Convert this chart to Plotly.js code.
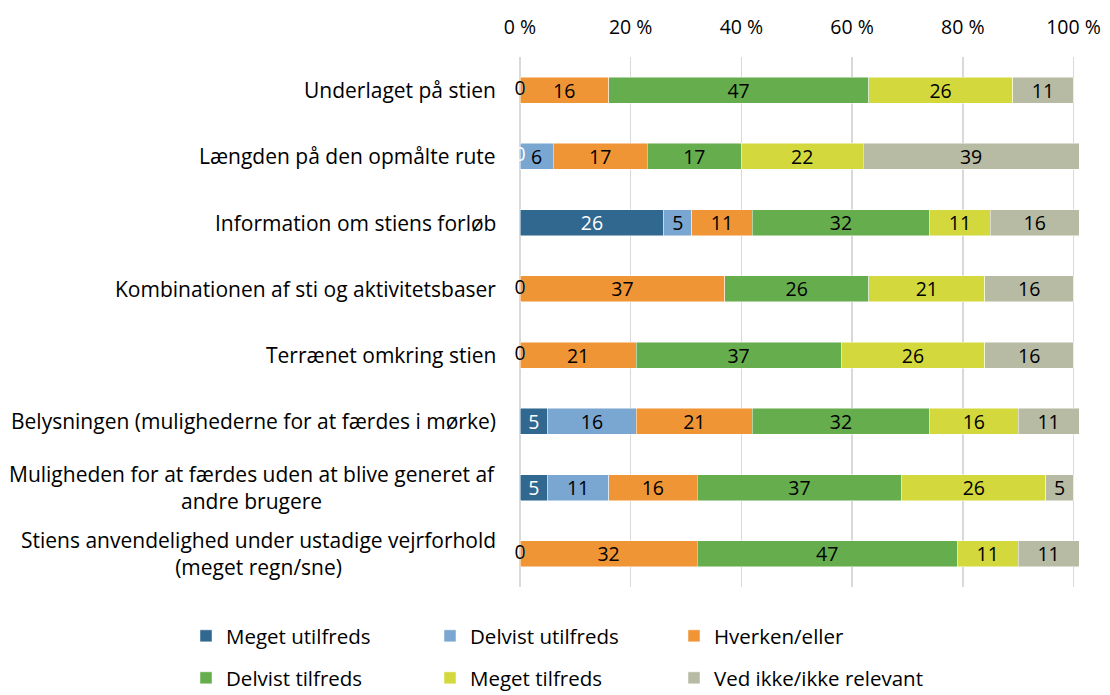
<!DOCTYPE html>
<html>
<head>
<meta charset="utf-8">
<script src="https://cdn.plot.ly/plotly-3.0.1.min.js"></script>
<style>html,body{margin:0;padding:0;background:#fff;}#chart{width:1110px;height:695px;}</style>
</head>
<body>
<div id="chart"></div>
<script>
// Categories (top to bottom)
var categories = [
  "Underlaget på stien",
  "Længden på den opmålte rute",
  "Information om stiens forløb",
  "Kombinationen af sti og aktivitetsbaser",
  "Terrænet omkring stien",
  "Belysningen (mulighederne for at færdes i mørke)",
  "Muligheden for at færdes uden at blive generet af andre brugere",
  "Stiens anvendelighed under ustadige vejrforhold (meget regn/sne)"
];
var categoryLabels = [
  "Underlaget på stien",
  "Længden på den opmålte rute",
  "Information om stiens forløb",
  "Kombinationen af sti og aktivitetsbaser",
  "Terrænet omkring stien",
  "Belysningen (mulighederne for at færdes i mørke)",
  "Muligheden for at færdes uden at blive generet af<br>andre brugere",
  "Stiens anvendelighed under ustadige vejrforhold<br>(meget regn/sne)"
];
var seriesNames = ["Meget utilfreds", "Delvist utilfreds", "Hverken/eller",
                   "Delvist tilfreds", "Meget tilfreds", "Ved ikke/ikke relevant"];
var megetUtilfreds   = [0, 0, 26, 0, 0, 5, 5, 0];
var delvistUtilfreds = [0, 6, 5, 0, 0, 16, 11, 0];
var hverkenEller     = [16, 17, 11, 37, 21, 21, 16, 32];
var delvistTilfreds  = [47, 17, 32, 26, 37, 32, 37, 47];
var megetTilfreds    = [26, 22, 11, 21, 26, 16, 26, 11];
var vedIkke          = [11, 39, 16, 16, 16, 11, 5, 11];
var tickValues = [0, 20, 40, 60, 80, 100];
var tickLabels = ["0 %", "20 %", "40 %", "60 %", "80 %", "100 %"];

var seriesValues = [megetUtilfreds, delvistUtilfreds, hverkenEller, delvistTilfreds, megetTilfreds, vedIkke];
var seriesColors = ["#31688F", "#7AA6D2", "#F09536", "#66AD4D", "#D3D93D", "#B8BBA4"];
var labelColors  = ["#FFFFFF", "#000000", "#000000", "#000000", "#000000", "#000000"];
var FONT = "'Open Sans', Lato, sans-serif";
var FS = 19.5;     // numbers
var FS_TXT = 21;   // words
var FS_LEG = 20.5; // legend

// legend slots: column origin (px) and row centre (px)
var legendCols = [186, 430, 674];
var legendRows = [636, 678];

var traces = [];
seriesValues.forEach(function (vals, s) {
  traces.push({
    type: "bar",
    orientation: "h",
    name: seriesNames[s],
    x: vals,
    y: categories,
    marker: { color: seriesColors[s], line: { color: "rgba(255,255,255,0.8)", width: 0.6 } },
    text: vals.map(String),
    textposition: "inside",
    insidetextanchor: "middle",
    textangle: 0,
    constraintext: "none",
    insidetextfont: { family: FONT, size: FS, color: labelColors[s] },
    legend: s === 0 ? "legend" : "legend" + (s + 1),
    hoverinfo: "name+x"
  });
});

// labels for zero-valued segments (drawn at their stacked position)
var zx = [], zy = [], zt = [], zc = [];
categories.forEach(function (c, i) {
  var cum = 0;
  seriesValues.forEach(function (vals, s) {
    if (vals[i] === 0) { zx.push(cum); zy.push(c); zt.push(String(vals[i])); zc.push(labelColors[s]); }
    cum += vals[i];
  });
});
traces.push({
  type: "scatter", mode: "text", x: zx, y: zy, text: zt,
  textposition: "middle center",
  textfont: { family: FONT, size: FS, color: zc },
  cliponaxis: false, showlegend: false, hoverinfo: "skip"
});

var annotations = categories.map(function (c, i) {
  return {
    xref: "paper", yref: "y", x: 0, y: c, xanchor: "right", yanchor: "middle",
    xshift: -22, text: categoryLabels[i], showarrow: false, align: "center",
    font: { family: FONT, size: FS_TXT, color: "#000" }
  };
});

var layout = {
  width: 1110, height: 695,
  margin: { l: 520, r: 31, t: 57, b: 108, pad: 0 },
  paper_bgcolor: "#fff", plot_bgcolor: "#fff",
  font: { family: FONT, size: FS, color: "#000" },
  barmode: "stack",
  bargap: 0.61,
  xaxis: {
    side: "top", range: [0, 101], tickmode: "array", tickvals: tickValues, ticktext: tickLabels,
    showgrid: true, gridcolor: "#D9D9D9", gridwidth: 1.5,
    zeroline: true, zerolinecolor: "#D9D9D9", zerolinewidth: 1.5,
    showline: false, ticks: "", ticklabelstandoff: 18,
    tickfont: { family: FONT, size: FS, color: "#000" }, fixedrange: true
  },
  yaxis: {
    type: "category", range: [7.5, -0.5], showticklabels: false,
    showgrid: false, zeroline: false, showline: false, ticks: "", fixedrange: true
  },
  annotations: annotations,
  showlegend: true
};

seriesNames.forEach(function (n, s) {
  var key = s === 0 ? "legend" : "legend" + (s + 1);
  layout[key] = {
    orientation: "h", xref: "container", yref: "container",
    x: legendCols[s % 3] / 1110, xanchor: "left",
    y: 1 - legendRows[Math.floor(s / 3)] / 695, yanchor: "middle",
    font: { family: FONT, size: FS_LEG, color: "#000" },
    bgcolor: "rgba(0,0,0,0)"
  };
});

Plotly.newPlot("chart", traces, layout, { displayModeBar: false, staticPlot: true });
</script>
</body>
</html>
